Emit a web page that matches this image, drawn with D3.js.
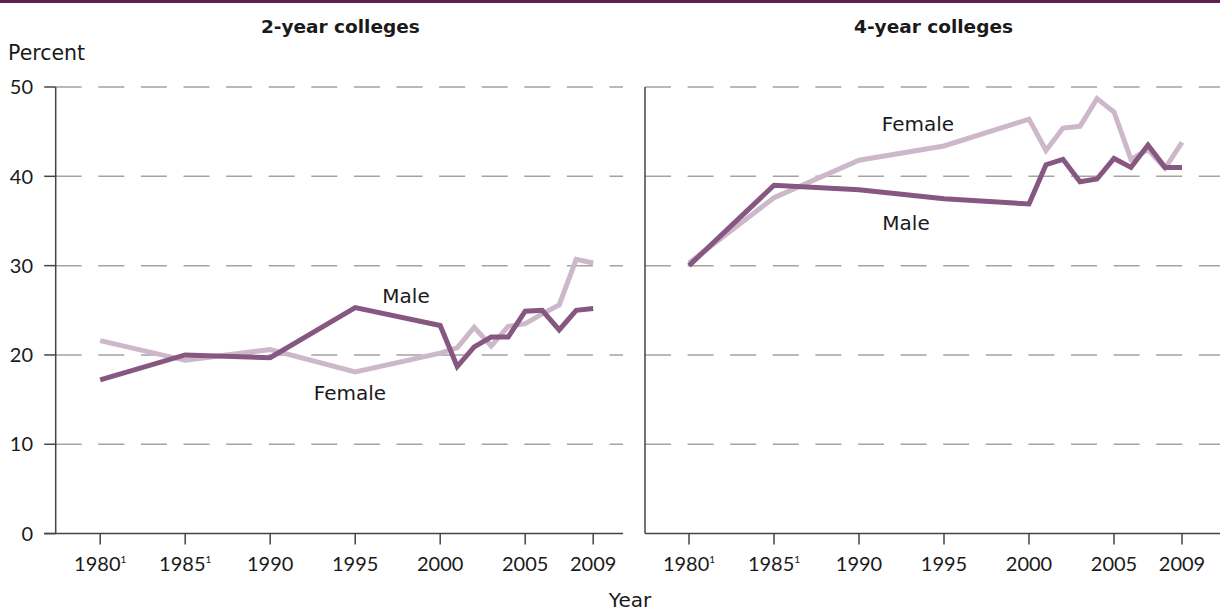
<!DOCTYPE html>
<html>
<head>
<meta charset="utf-8">
<script src="https://cdn.jsdelivr.net/npm/d3@7"></script>
<style>
  html, body { margin: 0; padding: 0; background: #fff; }
  svg { display: block; }
  text { font-family: Lato, "Noto Sans", sans-serif; fill: #1a1a1a; }
  text.word { font-family: "DejaVu Sans", sans-serif; }
</style>
</head>
<body>
<svg id="chart" width="1220" height="613"></svg>
<script>
// ---- data ----
const years = [1980, 1985, 1990, 1995, 2000, 2001, 2002, 2003, 2004, 2005, 2006, 2007, 2008, 2009];
const twoYearMale   = [17.2, 20.0, 19.7, 25.3, 23.3, 18.7, 20.9, 22.0, 22.0, 24.9, 25.0, 22.8, 25.0, 25.2];
const twoYearFemale = [21.6, 19.4, 20.6, 18.1, 20.2, 20.8, 23.1, 21.0, 23.2, 23.5, 24.6, 25.6, 30.7, 30.3];
const fourYearMale   = [30.0, 39.0, 38.5, 37.5, 36.9, 41.3, 41.9, 39.4, 39.7, 42.0, 41.0, 43.5, 41.0, 41.0];
const fourYearFemale = [30.3, 37.6, 41.8, 43.4, 46.4, 42.9, 45.4, 45.6, 48.7, 47.2, 41.9, 43.0, 40.9, 43.8];
const tickYears = [1980, 1985, 1990, 1995, 2000, 2005, 2009];
const tickNotes = {1980: "1", 1985: "1"};
const yTicks = [0, 10, 20, 30, 40, 50];
const panelTitles = ["2-year colleges", "4-year colleges"];

// ---- styles ----
const maleColor = "#865780";
const femaleColor = "#cdb8cb";
const gridColor = "#a3a3a3";
const axisColor = "#444";

const svg = d3.select("#chart");

// top rule
svg.append("rect").attr("x", 0).attr("y", 0).attr("width", 1220).attr("height", 3).attr("fill", "#5b2051");

const y = d3.scaleLinear().domain([0, 50]).range([533.6, 87]);

const panels = [
  { title: panelTitles[0], left: 55.7, right: 623, x0: 100.2, male: twoYearMale, female: twoYearFemale,
    labels: [{t: "Male", x: 406, y: 296}, {t: "Female", x: 350, y: 393}], yLabels: true },
  { title: panelTitles[1], left: 645, right: 1220, x0: 689, male: fourYearMale, female: fourYearFemale,
    labels: [{t: "Female", x: 918, y: 124}, {t: "Male", x: 906, y: 223}], yLabels: false }
];

panels.forEach(p => {
  const g = svg.append("g");
  const x = d3.scaleLinear().domain([1980, 2009]).range([p.x0, p.x0 + 29 * 17]);

  // gridlines
  yTicks.filter(v => v > 0).forEach(v => {
    g.append("line")
      .attr("x1", p.left).attr("x2", p.right)
      .attr("y1", y(v)).attr("y2", y(v))
      .attr("stroke", gridColor).attr("stroke-width", 1.5)
      .attr("stroke-dasharray", "26,16.6");
  });

  // y axis
  g.append("line").attr("x1", p.left).attr("x2", p.left).attr("y1", y(50)).attr("y2", y(0))
    .attr("stroke", axisColor).attr("stroke-width", 1.5);
  // x axis
  g.append("line").attr("x1", p.yLabels ? p.left - 11.5 : p.left).attr("x2", p.right)
    .attr("y1", y(0)).attr("y2", y(0)).attr("stroke", axisColor).attr("stroke-width", 1.5);

  if (p.yLabels) {
    yTicks.forEach(v => {
      g.append("line").attr("x1", p.left - 11.5).attr("x2", p.left).attr("y1", y(v)).attr("y2", y(v))
        .attr("stroke", axisColor).attr("stroke-width", 1.5);
      g.append("text").attr("x", 33).attr("y", y(v)).attr("dy", "0.36em")
        .attr("text-anchor", "end").attr("font-size", 20).text(v);
    });
  }

  // x ticks
  tickYears.forEach(t => {
    g.append("line").attr("x1", x(t)).attr("x2", x(t)).attr("y1", y(0)).attr("y2", y(0) + 11)
      .attr("stroke", axisColor).attr("stroke-width", 1.5);
    const tx = g.append("text").attr("x", x(t)).attr("y", 571).attr("text-anchor", "middle")
      .attr("font-size", 20);
    tx.append("tspan").text(t);
    if (tickNotes[t]) {
      tx.append("tspan").attr("font-size", 10).attr("dy", -8).text(tickNotes[t]);
    }
  });

  // title
  g.append("text").attr("class", "word").attr("x", (p.left + p.right) / 2 + 1).attr("y", 33)
    .attr("text-anchor", "middle").attr("font-size", 18.5).attr("font-weight", "bold").text(p.title);

  const line = d3.line().x((d, i) => x(years[i])).y(d => y(d));
  g.append("path").datum(p.female).attr("d", line).attr("fill", "none")
    .attr("stroke", femaleColor).attr("stroke-width", 5).attr("stroke-linejoin", "miter");
  g.append("path").datum(p.male).attr("d", line).attr("fill", "none")
    .attr("stroke", maleColor).attr("stroke-width", 5).attr("stroke-linejoin", "miter");

  p.labels.forEach(l => {
    g.append("text").attr("class", "word").attr("x", l.x).attr("y", l.y).attr("dy", "0.36em")
      .attr("text-anchor", "middle").attr("font-size", 20).text(l.t);
  });
});

svg.append("text").attr("class", "word").attr("x", 8).attr("y", 60).attr("font-size", 20.5).text("Percent");
svg.append("text").attr("class", "word").attr("x", 630).attr("y", 607).attr("text-anchor", "middle")
  .attr("font-size", 20).text("Year");
</script>
</body>
</html>
